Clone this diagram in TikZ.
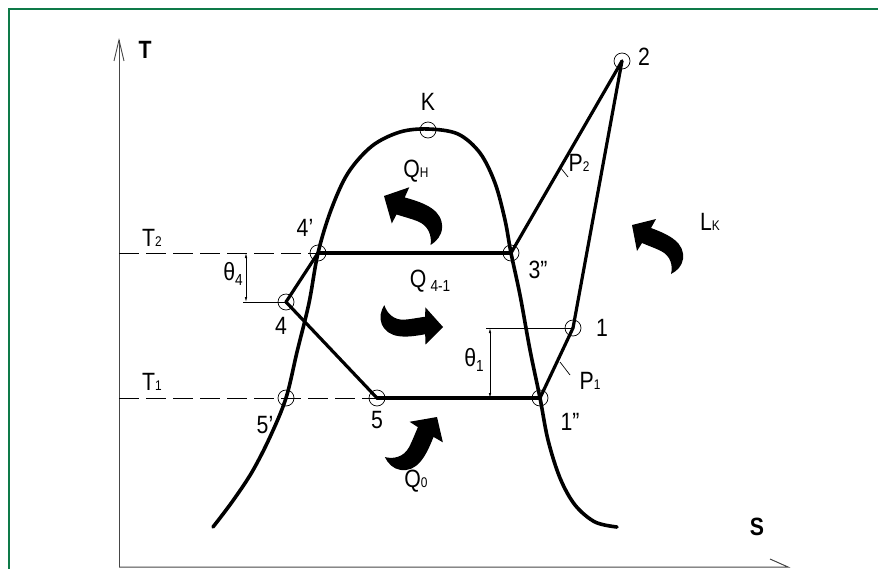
\documentclass[tikz,border=0pt]{standalone}
\usepackage{fontspec}
\setmainfont{Liberation Sans}[FakeStretch=0.85]
\usetikzlibrary{arrows.meta}
\definecolor{framegreen}{RGB}{14,122,72}
\definecolor{axisgray}{RGB}{70,70,70}
\newcommand{\lsub}[1]{{\fontsize{14}{14}\selectfont #1}}
\newcommand{\dsub}[1]{\raisebox{-0.35ex}{\fontsize{16}{16}\selectfont #1}}
\tikzset{
  statept/.style={circle, draw, line width=0.7pt, minimum size=16pt, inner sep=0pt},
  lbl/.style={font=\fontsize{25}{27}\selectfont, inner sep=0pt},
  axlbl/.style={font=\fontsize{25}{27}\selectfont\bfseries, inner sep=0pt},
  cycleline/.style={line width=3.2pt, line cap=round, line join=round},
  domeline/.style={line width=3.6pt, line cap=round, line join=round},
  dashline/.style={line width=0.8pt, dash pattern=on 20pt off 7pt},
  dimline/.style={line width=0.7pt},
  dimarrows/.style={dimline, {Latex[length=5pt,width=2.5pt]}-{Latex[length=5pt,width=2.5pt]}},
  axisline/.style={line width=1pt, draw=axisgray},
  bentarrow/.pic={
    \fill (0,0) -- (24,-6) -- (19,3)
      .. controls (38,10) and (53,18) .. (51,34)
      .. controls (50,41) and (45,46) .. (39,49)
      .. controls (41,41) and (39,31) .. (29,26)
      .. controls (23,23) and (17,21) .. (10,18)
      -- (5,26) -- cycle;
  }
}
\begin{document}
\begin{tikzpicture}[x=1pt,y=-1pt]
\useasboundingbox (0,0) rectangle (878,568);
% frame
\draw[framegreen, line width=2.6pt] (9,570) -- (9,9) -- (880,9);

% axes
\coordinate (o) at (119,567);
\coordinate (ttop) at (119,38);
\coordinate (send) at (788,567);
\coordinate (sbarb) at (770,559);
\draw[axisline, -{Straight Barb[length=21pt,width=10pt,line width=0.9pt]}] (o) -- (ttop);
\draw[axisline] (o) -- (send) -- (sbarb);
\node[axlbl] (tlab) at (145,50) {T};
\node[axlbl] (slab) at (757,527) {S};

% state points
\node[statept] (n2) at (622,61) {};
\node[statept] (nK) at (428,130) {};
\node[statept] (n4p) at (318,253) {};
\node[statept] (n3pp) at (511,253) {};
\node[statept] (n4) at (286,302) {};
\node[statept] (n1) at (573,328) {};
\node[statept] (n5p) at (286,398) {};
\node[statept] (n5) at (377,398) {};
\node[statept] (n1pp) at (540,398) {};

% dome
\draw[domeline] plot[smooth, tension=0.55] coordinates {
  (213,527) (232,502) (252,472) (270,437) (286,398) (297,352) (309,303) (318,253)
  (331,210) (348,173) (372,146) (400,132) (428,129) (458,134) (480,153) (495,183)
  (505,220) (511,253) (520,295) (530,350) (540,398) (548,440) (560,478) (575,505)
  (595,522) (617,527)};

% cycle
\draw[cycleline] (n4p.center) -- (n3pp.center);
\draw[cycleline] (n4.center) -- (n4p.center);
\draw[cycleline] (n4.center) -- (n5.center);
\draw[cycleline] (n5.center) -- (n1pp.center);
\draw[cycleline] (n1pp.center) -- (n1.center);
\draw[cycleline] (n1.center) -- (n2.center);
\draw[cycleline] (n3pp.center) -- (n2.center);

% dashed isotherms
\coordinate (t2s) at (119,253);
\coordinate (t1s) at (119,398);
\draw[dashline] (t2s) -- (n4p.center);
\draw[dashline] (t1s) -- (n5.center);
\node[lbl] (t2lab) at (152,238) {T\lsub{2}};
\node[lbl] (t1lab) at (152,382) {T\lsub{1}};

% theta 4
\coordinate (d4a) at (246,253);
\coordinate (d4b) at (246,302);
\coordinate (d4c) at (243,302);
\draw[dimarrows] (d4a) -- (d4b);
\draw[dimline] (d4c) -- (n4.center);
\node[lbl] (th4) at (233,274) {θ\dsub{4}};

% theta 1
\coordinate (d1a) at (490,328);
\coordinate (d1b) at (490,398);
\coordinate (d1c) at (486,328);
\draw[dimarrows] (d1a) -- (d1b);
\draw[dimline] (d1c) -- (n1.center);
\node[lbl] (th1) at (474,360) {θ\dsub{1}};

% pressure labels
\coordinate (p2a) at (560,167);
\coordinate (p2b) at (568,177);
\draw[dimline] (p2a) -- (p2b);
\node[lbl] (p2lab) at (579,163) {P\lsub{2}};
\coordinate (p1a) at (560,362);
\coordinate (p1b) at (570,375);
\draw[dimline] (p1a) -- (p1b);
\node[lbl] (p1lab) at (590,381) {P\lsub{1}};

% point labels
\node[lbl] (l2) at (644,57) {2};
\node[lbl] (lK) at (428,102) {K};
\node[lbl] (l4p) at (305,228) {4'};
\node[lbl] (l3pp) at (538,270) {3''};
\node[lbl] (l4) at (281,326) {4};
\node[lbl] (l1) at (602,328) {1};
\node[lbl] (l5p) at (265,425) {5'};
\node[lbl] (l5) at (377,420) {5};
\node[lbl] (l1pp) at (570,422) {1''};

% heat / work labels
\node[lbl] (qh) at (416,171) {Q\lsub{H}};
\node[lbl] (q41) at (430,281) {Q\,\dsub{4-1}};
\node[lbl] (q0) at (416,481) {Q\lsub{0}};
\node[lbl] (lk) at (710,222) {L\lsub{K}};

% bent arrows
\pic at (632,225) {bentarrow};
\pic[rotate=5, scale=1.08] at (384,196) {bentarrow};
\pic[rotate=-91, scale=1.05] at (437,417) {bentarrow};
\pic[rotate=211, scale=1.0] at (443,327) {bentarrow};
\end{tikzpicture}
\end{document}
